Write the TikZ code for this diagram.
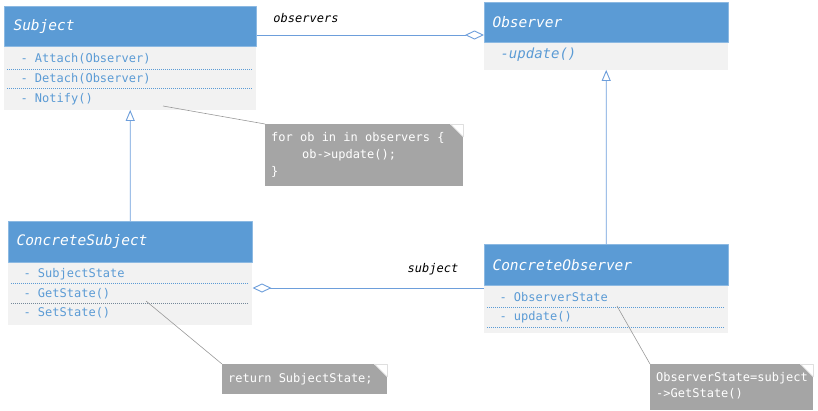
\documentclass[tikz,border=0pt]{standalone}
\usepackage{fontspec}
\setmonofont{DejaVu Sans Mono}
\usetikzlibrary{arrows.meta}
\definecolor{hdblue}{HTML}{5B9BD5}
\definecolor{bdgray}{HTML}{F2F2F2}
\definecolor{mblue}{HTML}{5B9BD5}
\definecolor{lnblue}{HTML}{6D9EDB}
\definecolor{ntgray}{HTML}{A5A5A5}
\begin{document}
\begin{tikzpicture}[x=1pt,y=-1pt,font=\ttfamily\fontsize{12}{14}\selectfont,line join=round,
	head/.style={fill=hdblue,draw=hdblue!70!white,line width=.5pt,anchor=north west,inner sep=0,minimum width=#1,minimum height=40pt},
	body/.style={fill=bdgray,anchor=north west,inner sep=0,minimum width=#1},
	title/.style={text=white,anchor=west,font=\ttfamily\itshape\fontsize{14.5}{16}\selectfont},
	member/.style={text=mblue,anchor=west},
	sep/.style={mblue,line width=1pt,dash pattern=on 1pt off 1pt},
	note/.style={fill=ntgray,anchor=north west,inner sep=0},
	notetext/.style={text=white,anchor=west,align=left,inner sep=0,font=\ttfamily\fontsize{12}{17}\selectfont},
	notel/.style={gray!80,line width=.6pt},
	lnk/.style={lnblue,line width=.9pt},
	inh/.style={lnk,-{Triangle[open,length=11pt,width=9pt,fill=white]}},
	lbl/.style={font=\ttfamily\itshape\fontsize{12}{14}\selectfont}]
	\useasboundingbox (0,0) rectangle (818,410);
	% Subject
	\node[head=252pt] (subj) at (4,6) {};
	\node[body=252pt,minimum height=63pt] (subjb) at (subj.south west) {};
	\node[title] at ([xshift=6pt]subj.west) {Subject};
	\foreach \t/\y in {{- Attach(Observer)}/59,{- Detach(Observer)}/79,{- Notify()}/99}
	\node[member] at (17,\y) {\t};
	\draw[sep] (7,69)--(253,69) (7,88)--(253,88);
	% Observer
	\node[head=244pt] (obs) at (484,2) {};
	\node[body=244pt,minimum height=27pt] (obsb) at (obs.south west) {};
	\node[title] at ([xshift=5pt]obs.west) {Observer};
	\node[member,font=\ttfamily\itshape\fontsize{14}{16}\selectfont] at (497,55) {-update()};
	% ConcreteSubject
	\node[head=244pt,minimum height=41pt] (csubj) at (8,221) {};
	\node[body=244pt,minimum height=62pt] (csubjb) at (csubj.south west) {};
	\node[title] at ([xshift=5pt]csubj.west) {ConcreteSubject};
	\foreach \t/\y in {{- SubjectState}/274,{- GetState()}/294,{- SetState()}/313}
	\node[member] at (20,\y) {\t};
	\draw[sep] (11,283)--(249,283);
	\draw[sep,gray!70!mblue] (11,303)--(249,303);
	% ConcreteObserver
	\node[head=244pt,minimum height=41pt] (cobs) at (484,244) {};
	\node[body=244pt,minimum height=47pt] (cobsb) at (cobs.south west) {};
	\node[title] at ([xshift=5pt]cobs.west) {ConcreteObserver};
	\foreach \t/\y in {{- ObserverState}/297,{- update()}/317}
	\node[member] at (496,\y) {\t};
	\draw[sep] (487,307)--(725,307) (487,327)--(725,327);
	% notes
	\node[note,minimum width=198pt,minimum height=62pt] (nt1) at (265,124) {};
	\node[notetext] at ([xshift=6pt]nt1.west) {for ob in in observers \{\\\hspace*{31pt}ob->update();\\\}};
	\node[note,minimum width=165pt,minimum height=30pt] (nt2) at (222,364) {};
	\node[notetext] at ([xshift=6pt]nt2.west) {return SubjectState;};
	\node[note,minimum width=163pt,minimum height=46pt] (nt3) at (650,364) {};
	\node[notetext,font=\ttfamily\fontsize{12}{16}\selectfont] at ([xshift=6pt,yshift=1pt]nt3.west) {ObserverState=subject\\->GetState()};
	\foreach \n in {nt1,nt2,nt3}{
		\fill[white] ([xshift=-13pt]\n.north east)--(\n.north east)--([yshift=-13pt]\n.north east)--cycle;
		\draw[gray!25,line width=.6pt] ([xshift=-13pt]\n.north east)--(\n.north east)--([yshift=-13pt]\n.north east);
		\draw[gray!25,line width=.6pt] ([xshift=-13pt]\n.north east)--([yshift=-13pt]\n.north east);
	}
	\coordinate (n1s) at (163,106);
	\coordinate (n2s) at (146,301);
	\coordinate (n3s) at (617,306);
	\draw[notel] (n1s)--(nt1.north west) (n2s)--(nt2.north west) (n3s)--(nt3.north west);
	% links
	\draw[lnk,-{Diamond[open,length=19pt,width=9pt,fill=white]}] ([yshift=-29pt]subj.north east)--([yshift=-33pt]obs.north west);
	\node[lbl] at (306,18) {observers};
	\draw[lnk,{Diamond[open,length=19pt,width=9pt,fill=white]}-] ([yshift=-67pt]csubj.north east)--([yshift=-44pt]cobs.north west);
	\node[lbl] at (433,269) {subject};
	\draw[inh] (csubj.north)--(subjb.south);
	\draw[inh] (cobs.north)--(obsb.south);
\end{tikzpicture}
\end{document}
